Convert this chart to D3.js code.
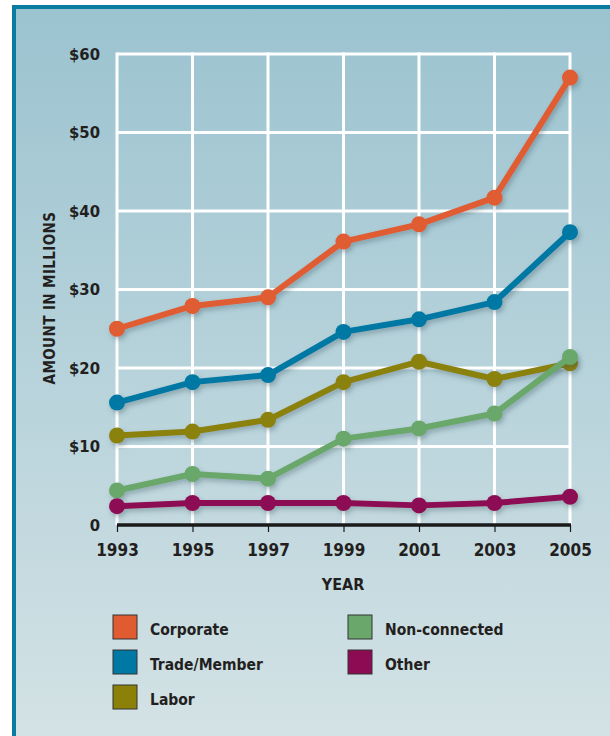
<!DOCTYPE html>
<html>
<head>
<meta charset="utf-8">
<script src="https://cdn.jsdelivr.net/npm/d3@7"></script>
<style>
  body { margin: 0; background: #fff; }
  svg { display: block; }
  text { font-family: "DejaVu Sans Condensed", "Liberation Sans Narrow", sans-serif; font-weight: bold; fill: #231f20; }
</style>
</head>
<body>
<script>
const years = [1993, 1995, 1997, 1999, 2001, 2003, 2005]
const seriesNames = ['Corporate', 'Trade/Member', 'Labor', 'Non-connected', 'Other']
const seriesColors = ['#e05b30', '#0078a4', '#8b8108', '#6aa76b', '#8c0b53']
const corporate = [25.0, 27.9, 29.0, 36.1, 38.3, 41.7, 57.0]
const tradeMember = [15.6, 18.2, 19.1, 24.6, 26.2, 28.4, 37.3]
const labor = [11.4, 11.9, 13.4, 18.2, 20.8, 18.6, 20.6]
const nonConnected = [4.4, 6.5, 5.9, 11.0, 12.3, 14.2, 21.4]
const other = [2.4, 2.8, 2.8, 2.8, 2.5, 2.8, 3.6]
const yTicks = [0, 10, 20, 30, 40, 50, 60]

const seriesValues = [corporate, tradeMember, labor, nonConnected, other]

const W = 610, H = 736
const svg = d3.select('body').append('svg').attr('width', W).attr('height', H)

const defs = svg.append('defs')
const grad = defs.append('linearGradient').attr('id', 'bg').attr('x1', 0).attr('y1', 0).attr('x2', 0).attr('y2', 1)
grad.append('stop').attr('offset', '0%').attr('stop-color', '#9bc3d0')
grad.append('stop').attr('offset', '100%').attr('stop-color', '#d3e2e5')

const shadow = defs.append('filter').attr('id', 'shadow').attr('x', '-50%').attr('y', '-50%').attr('width', '200%').attr('height', '200%')
shadow.append('feDropShadow').attr('dx', 2).attr('dy', 3).attr('stdDeviation', 2.5)
    .attr('flood-color', '#30505a').attr('flood-opacity', 0.35)

// panel + border
svg.append('rect').attr('x', 12).attr('y', 5).attr('width', W - 12).attr('height', H - 5).attr('fill', '#0a7ba1')
svg.append('rect').attr('x', 16).attr('y', 9).attr('width', W - 16).attr('height', H - 9).attr('fill', 'url(#bg)')

const x = d3.scaleLinear().domain([1993, 2005]).range([117, 570])
const y = d3.scaleLinear().domain([0, 60]).range([525, 54])

// grid
svg.append('g').selectAll('line')
    .data(yTicks.filter(d => d > 0))
    .enter().append('line')
        .attr('x1', x(1993)).attr('x2', x(2005))
        .attr('y1', d => y(d)).attr('y2', d => y(d))
        .attr('stroke', '#fff').attr('stroke-width', 3)
svg.append('g').selectAll('line')
    .data(years)
    .enter().append('line')
        .attr('x1', d => x(d)).attr('x2', d => x(d))
        .attr('y1', y(60) - 1.5).attr('y2', y(0))
        .attr('stroke', '#fff').attr('stroke-width', 3)

// x axis
const xAxis = d3.axisBottom(x).tickValues(years).tickFormat(d3.format('d')).tickSize(7).tickPadding(12)
const gx = svg.append('g').attr('transform', 'translate(0,' + y(0) + ')').call(xAxis)
gx.select('.domain').attr('stroke', '#1a1a1a').attr('stroke-width', 3.5).attr('d', 'M' + x(1993) + ',0H' + (x(2005) + 1))
gx.selectAll('.tick line').attr('stroke', '#1a1a1a').attr('stroke-width', 1.2)
gx.selectAll('.tick text').attr('font-size', 17).attr('font-family', null).attr('fill', '#231f20')

// y axis labels
const yAxis = d3.axisLeft(y).tickValues(yTicks).tickFormat(d => d === 0 ? '0' : '$' + d).tickSize(0).tickPadding(17)
const gy = svg.append('g').attr('transform', 'translate(' + x(1993) + ',0)').call(yAxis)
gy.select('.domain').remove()
gy.selectAll('.tick text').attr('font-size', 16.5).attr('font-family', null).attr('fill', '#231f20')

svg.append('text')
    .attr('x', 343).attr('y', 590)
    .attr('text-anchor', 'middle')
    .attr('font-size', 16)
    .text('YEAR')

svg.append('text')
    .attr('transform', 'translate(55,298) rotate(-90)')
    .attr('text-anchor', 'middle')
    .attr('font-size', 15)
    .attr('letter-spacing', 0.4)
    .text('AMOUNT IN MILLIONS')

// lines
const line = d3.line().x((d, i) => x(years[i])).y(d => y(d))
const series = svg.append('g').selectAll('g')
    .data(seriesValues)
    .enter().append('g')
        .attr('filter', 'url(#shadow)')
series.append('path')
    .attr('d', d => line(d))
    .attr('fill', 'none')
    .attr('stroke', (d, i) => seriesColors[i])
    .attr('stroke-width', 6)
    .attr('stroke-linejoin', 'round')
series.selectAll('circle')
    .data((d, i) => d.map((v, j) => ({ v: v, yr: years[j], c: seriesColors[i] })))
    .enter().append('circle')
        .attr('cx', d => x(d.yr))
        .attr('cy', d => y(d.v))
        .attr('r', 8)
        .attr('fill', d => d.c)

// legend
const legendPos = [[113, 615], [113, 650], [113, 685], [348, 615], [348, 650]]
const legend = svg.append('g').selectAll('g')
    .data(seriesNames)
    .enter().append('g')
        .attr('transform', (d, i) => 'translate(' + legendPos[i][0] + ',' + legendPos[i][1] + ')')
legend.append('rect')
    .attr('width', 24).attr('height', 24)
    .attr('fill', (d, i) => seriesColors[i])
    .attr('stroke', '#333').attr('stroke-width', 1)
legend.append('text')
    .attr('x', 37).attr('y', 20)
    .attr('font-size', 15.5)
    .text(d => d)
</script>
</body>
</html>
